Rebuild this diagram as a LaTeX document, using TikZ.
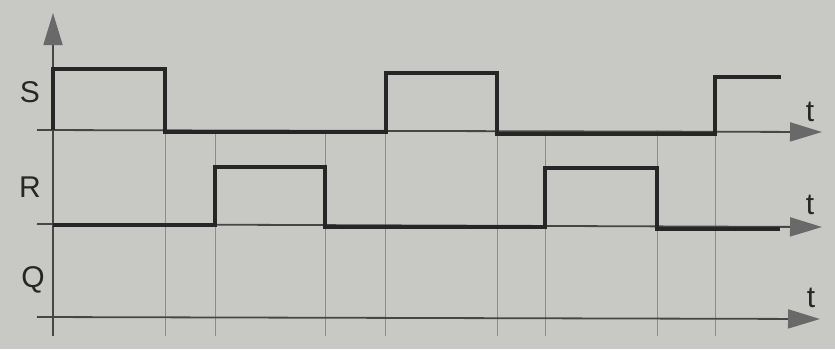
\documentclass[tikz,border=0pt]{standalone}
\usepackage{fontspec}
\setmainfont{Liberation Sans}
\usetikzlibrary{arrows.meta}
\definecolor{paper}{RGB}{200,200,196}
\definecolor{axisgray}{RGB}{70,70,70}
\definecolor{tipgray}{RGB}{105,105,105}
\definecolor{gridgray}{RGB}{140,140,138}
\tikzset{
  axis/.style={axisgray,line width=1.8pt,-{Triangle[length=32pt,width=19pt,color=tipgray]}},
  wave/.style={black!85,line width=3.8pt,line join=miter},
  gridline/.style={gridgray,line width=0.5pt},
  siglabel/.style={font=\fontsize{30}{30}\selectfont,text=black!85,inner sep=0pt},
}
\begin{document}
\begin{tikzpicture}[x=1pt,y=-1pt]
  \fill[paper] (0,0) rectangle (835,349);
  \useasboundingbox (0,0) rectangle (835,349);
  % time marks
  \foreach \x in {165,215,325,385,497,545,657,715}
    \draw[gridline] (\x,130) -- (\x,336);
  % axes
  \coordinate (v0) at (53,336);
  \coordinate (v1) at (53,13);
  \draw[axis] (v0) -- (v1);
  \coordinate (s0) at (37,130);
  \coordinate (s1) at (822,132);
  \draw[axis] (s0) -- (s1);
  \coordinate (r0) at (37,224);
  \coordinate (r1) at (822,227);
  \draw[axis] (r0) -- (r1);
  \coordinate (q0) at (37,317);
  \coordinate (q1) at (820,319);
  \draw[axis] (q0) -- (q1);
  % labels
  \node[siglabel] (S) at (30,92) {S};
  \node[siglabel] (R) at (30,187) {R};
  \node[siglabel] (Q) at (33,280) {Q};
  \node[siglabel] (tS) at (810,112) {t};
  \node[siglabel] (tR) at (810,205) {t};
  \node[siglabel] (tQ) at (811,298) {t};
  % S signal
  \draw[wave] (53,130) -- (53,69) -- (165,69) -- (165,132) -- (386,132)
    -- (386,73) -- (497,73) -- (497,134) -- (715,134) -- (715,77) -- (781,77);
  % R signal
  \draw[wave] (53,225) -- (215,225) -- (215,167) -- (325,167) -- (325,227)
    -- (545,227) -- (545,168) -- (657,168) -- (657,229) -- (780,229);
\end{tikzpicture}
\end{document}
